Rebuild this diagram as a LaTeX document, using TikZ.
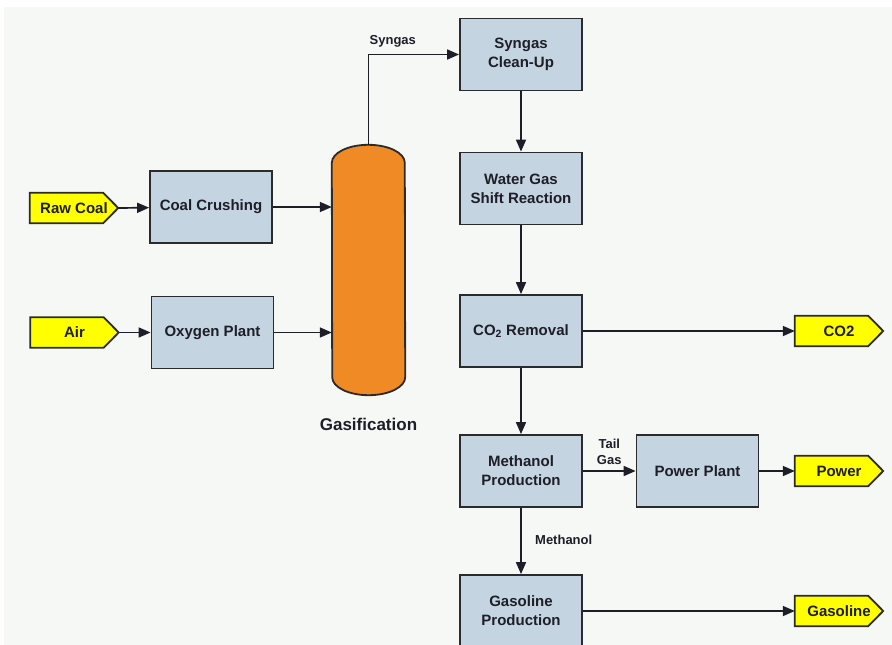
\documentclass[tikz,border=0pt]{standalone}
\usepackage{fontspec}
\setmainfont{Liberation Sans}
\usetikzlibrary{arrows.meta,positioning,backgrounds}
\definecolor{boxblue}{HTML}{C4D5E1}
\definecolor{tagyellow}{HTML}{FFFF00}
\definecolor{vesselorange}{HTML}{F08A24}
\definecolor{edge}{HTML}{2B2B2B}
\definecolor{ink}{HTML}{1E1E28}
\definecolor{bgpale}{HTML}{F5F8F5}
\begin{document}
\begin{tikzpicture}[x=1pt,y=-1pt,
            unit/.style={rectangle,draw=edge,fill=boxblue,line width=1.8pt,minimum width=122pt,minimum height=72pt,align=center,text=ink,font=\fontsize{15}{19}\selectfont\bfseries},
            tag/.style={rectangle,minimum width=88pt,minimum height=30pt,inner sep=0pt,text=ink,font=\fontsize{15}{18}\selectfont\bfseries},
            tagline/.style={draw=edge,fill=tagyellow,line width=1.8pt},
            flow/.style={draw=ink,line width=1.7pt,-{Triangle[length=12pt,width=10pt]}},
            lbl/.style={text=ink,align=center,font=\fontsize{13}{16}\selectfont\bfseries},
            ]
            \useasboundingbox (0,0) rectangle (892,645);

            \node[unit] (cleanup) at (521,54.5) {Syngas\\Clean-Up};
            \node[unit] (shift) at (521,188.5) {Water Gas\\Shift Reaction};
            \node[unit] (removal) at (521,331) {CO\textsubscript{2} Removal};
            \node[unit] (methanol) at (521,471) {Methanol\\Production};
            \node[unit] (gasoline) at (521,611) {Gasoline\\Production};
            \node[unit] (power) at (697.5,471) {Power Plant};
            \node[unit] (crushing) at (211,207) {Coal Crushing};
            \node[unit] (oxygen) at (212.5,332.5) {Oxygen Plant};

            \node[tag] (rawcoal) at (74,208) {Raw Coal};
            \node[tag] (air) at (74.5,332.5) {Air};
            \node[tag] (co2) at (839,331) {CO2};
            \node[tag] (powerout) at (839,471) {Power};
            \node[tag] (gasout) at (839,611) {Gasoline};

            \begin{scope}[on background layer]
                \fill[white] (0,0) rectangle (892,645);
                \fill[bgpale] (4,7) rectangle (892,645);
                \foreach \t in {rawcoal,air,co2,powerout,gasout}
                    \filldraw[tagline] (\t.north west) -- ([xshift=-15pt]\t.north east) -- (\t.east)
                        -- ([xshift=-15pt]\t.south east) -- (\t.south west) -- cycle;
            \end{scope}

            \node[minimum width=73pt,minimum height=250pt,inner sep=0pt] (gasifier) at (368.5,270) {};
            \filldraw[fill=vesselorange,draw=edge,line width=1.8pt]
                ([yshift=-18pt]gasifier.north west) arc[start angle=180,end angle=0,x radius=36.5pt,y radius=18pt]
                -- ([yshift=18pt]gasifier.south east) arc[start angle=0,end angle=-180,x radius=36.5pt,y radius=18pt]
                -- cycle;
            \node[text=ink,font=\fontsize{17}{20}\selectfont\bfseries,below=19pt of gasifier] (gasname) {Gasification};

            \draw[flow] (rawcoal.east) -- (crushing);
            \draw[flow] (air.east) -- (oxygen);
            \draw[flow] (crushing) -- (crushing -| gasifier.west);
            \draw[flow] (oxygen) -- (oxygen -| gasifier.west);
            \draw[flow] (gasifier) |- node[lbl,pos=0.634,above,inner sep=6pt] {Syngas} (cleanup);
            \draw[flow] (cleanup) -- (shift);
            \draw[flow] (shift) -- (removal);
            \draw[flow] (removal) -- (methanol);
            \draw[flow] (removal) -- (co2.west);
            \draw[flow] (methanol) -- node[lbl,above,inner sep=6pt] {Tail\\Gas} (power);
            \draw[flow] (power) -- (powerout.west);
            \draw[flow] (methanol) -- node[lbl,right,xshift=10pt,yshift=1pt] {Methanol} (gasoline);
            \draw[flow] (gasoline) -- (gasout.west);
        \end{tikzpicture}
\end{document}
